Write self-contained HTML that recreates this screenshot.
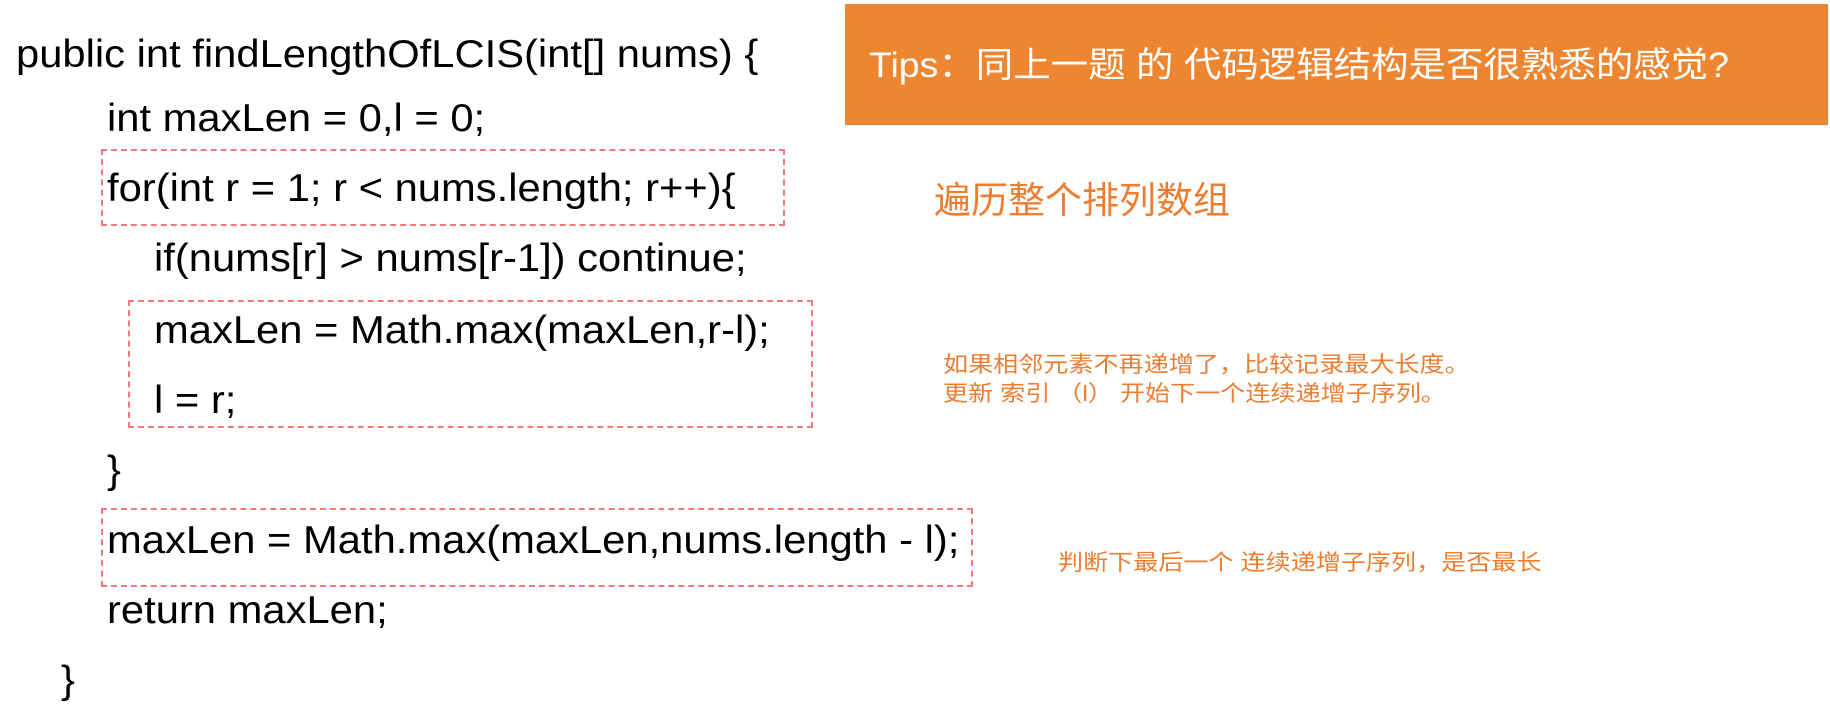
<!DOCTYPE html>
<html><head><meta charset="utf-8"><style>
body{margin:0;width:1830px;height:722px;background:#fff;position:relative;overflow:hidden;font-family:"Liberation Sans","Noto Sans CJK SC",sans-serif}
.c{position:absolute;font-size:39px;color:#000;white-space:nowrap;line-height:40px;transform:scaleX(1.07);transform-origin:left center}
.b{position:absolute;border:2px dashed #f07a7a;box-sizing:border-box}
.o{position:absolute;color:#ed7d31;white-space:nowrap;transform-origin:left center}
</style></head><body>
<div style="position:absolute;left:845px;top:4px;width:983px;height:121px;background:#ed8531"></div>
<div style="position:absolute;left:869px;top:46px;font-size:35px;color:#fff;white-space:nowrap;line-height:40px;transform:scaleX(1.07);transform-origin:left center">Tips：同上一题 的 代码逻辑结构是否很熟悉的感觉?</div>
<div class="c" style="left:16px;top:35px">public int findLengthOfLCIS(int[] nums) {</div>
<div class="c" style="left:107px;top:99px">int maxLen = 0,l = 0;</div>
<div class="c" style="left:107px;top:169px">for(int r = 1; r &lt; nums.length; r++){</div>
<div class="c" style="left:154px;top:239px">if(nums[r] &gt; nums[r-1]) continue;</div>
<div class="c" style="left:154px;top:311px">maxLen = Math.max(maxLen,r-l);</div>
<div class="c" style="left:154px;top:381px">l = r;</div>
<div class="c" style="left:107px;top:451px">}</div>
<div class="c" style="left:107px;top:521px">maxLen = Math.max(maxLen,nums.length - l);</div>
<div class="c" style="left:107px;top:591px">return maxLen;</div>
<div class="c" style="left:61px;top:661px">}</div>
<div class="b" style="left:101px;top:149px;width:684px;height:77px"></div>
<div class="b" style="left:128px;top:300px;width:685px;height:128px"></div>
<div class="b" style="left:101px;top:508px;width:872px;height:79px"></div>
<div class="o" style="left:934px;top:181px;font-size:37px;line-height:40px">遍历整个排列数组</div>
<div class="o" style="left:943px;top:350px;font-size:22px;line-height:29px;transform:scaleX(1.14)">如果相邻元素不再递增了，比较记录最大长度。<br>更新 索引 （l） 开始下一个连续递增子序列。</div>
<div class="o" style="left:1058px;top:548px;font-size:22px;line-height:29px;transform:scaleX(1.14)">判断下最后一个 连续递增子序列，是否最长</div>
</body></html>
